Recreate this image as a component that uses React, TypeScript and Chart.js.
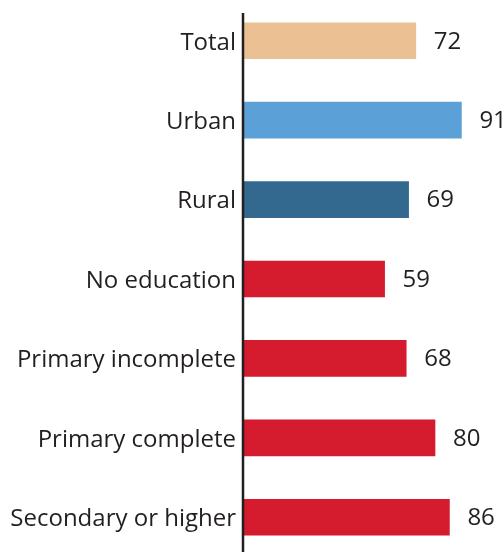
import React, { useEffect, useRef } from "react";
import { Chart, registerables } from "chart.js";

Chart.register(...registerables);

const categories = [
  "Total",
  "Urban",
  "Rural",
  "No education",
  "Primary incomplete",
  "Primary complete",
  "Secondary or higher",
];
const values = [72, 91, 69, 59, 68, 80, 86];
const barColors = [
  "#EBC193",
  "#5BA1D8",
  "#34698F",
  "#D51B2E",
  "#D51B2E",
  "#D51B2E",
  "#D51B2E",
];

const TEXT = "#231F20";
const FONT = "'Open Sans', 'Noto Sans', sans-serif";

export default function App() {
  const ref = useRef<HTMLCanvasElement | null>(null);

  useEffect(() => {
    document.body.style.margin = "0";
    if (!ref.current) return;

    const axisLine = {
      id: "axisLine",
      afterDatasetsDraw(chart: any) {
        const { ctx, chartArea, scales } = chart;
        const x0 = scales.x.getPixelForValue(0);
        ctx.save();
        ctx.strokeStyle = TEXT;
        ctx.lineWidth = 2.5;
        ctx.beginPath();
        ctx.moveTo(x0, chartArea.top + 12);
        ctx.lineTo(x0, chartArea.bottom);
        ctx.stroke();
        ctx.restore();
      },
    };

    const valueLabels = {
      id: "valueLabels",
      afterDatasetsDraw(chart: any) {
        const { ctx } = chart;
        const meta = chart.getDatasetMeta(0);
        ctx.save();
        ctx.font = `24px ${FONT}`;
        ctx.fillStyle = TEXT;
        ctx.textAlign = "left";
        ctx.textBaseline = "middle";
        meta.data.forEach((bar: any, i: number) => {
          ctx.fillText(String(values[i]), bar.x + 18, bar.y + 1);
        });
        ctx.restore();
      },
    };

    const chart = new Chart(ref.current, {
      type: "bar",
      data: {
        labels: categories,
        datasets: [
          {
            data: values,
            backgroundColor: barColors,
            barThickness: 36,
            borderWidth: 0,
          },
        ],
      },
      options: {
        indexAxis: "y",
        animation: false,
        responsive: true,
        maintainAspectRatio: false,
        layout: { padding: { top: 1, right: 21, left: 0, bottom: 0 } },
        plugins: {
          legend: { display: false },
          tooltip: { enabled: false },
          title: { display: false },
        },
        scales: {
          x: {
            display: false,
            min: 0,
            max: 100,
          },
          y: {
            grid: { display: false, drawTicks: false },
            border: { display: false },
            ticks: {
              color: TEXT,
              padding: 7,
              labelOffset: 2,
              font: { family: FONT, size: 24 },
            },
            afterFit(scale: any) {
              scale.width = 243;
              scale.paddingTop = 0;
              scale.paddingBottom = 0;
            },
          },
        },
      },
      plugins: [axisLine, valueLabels],
    });

    return () => chart.destroy();
  }, []);

  return (
    <div style={{ position: "relative", width: 504, height: 557, overflow: "hidden" }}>
      <canvas ref={ref} />
    </div>
  );
}
